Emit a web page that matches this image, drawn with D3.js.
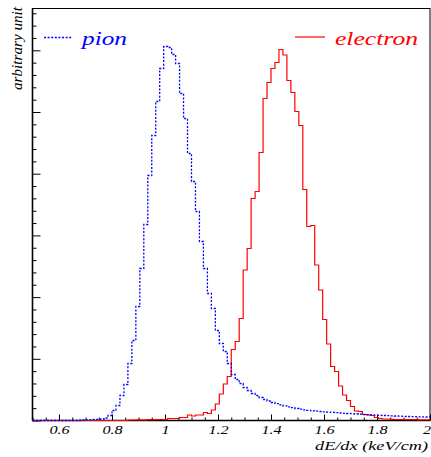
<!DOCTYPE html>
<html>
<head>
<meta charset="utf-8">
<title>dE/dx pion electron</title>
<script src="https://cdn.jsdelivr.net/npm/d3@7"></script>
<style>
  body { margin: 0; background: #fff; }
  text { font-family: "Liberation Serif", "DejaVu Serif", serif; font-style: italic; }
</style>
</head>
<body>
<svg id="graph" width="431" height="457"></svg>
<script>
// 100 bins between 0.5 and 2.0 keV/cm, heights in arbitrary units
var xMin = 0.5, xMax = 2.0, nBins = 100
var pion = [
  0, 0, 0, 0, 0, 0, 0, 0, 0, 0,
  0, 0, 0.5, 0.7, 0.8, 1, 1.2, 1.5, 2.5, 5,
  10, 15, 25, 36, 57, 80, 114, 152, 196, 245,
  285, 319, 352, 374, 373, 366, 357, 327, 302, 267,
  239, 209, 179, 152, 127, 112, 90, 77, 69, 57,
  46, 41, 37, 33, 30, 27, 25, 23, 21, 19.5,
  18, 16.8, 15.6, 14.6, 13.6, 12.8, 12, 11.3, 10.7, 10.2,
  9.7, 9.3, 9, 8.7, 8.4, 8.1, 7.8, 7.5, 7.2, 7,
  6.8, 6.5, 6.3, 6, 5.8, 5.6, 5.4, 5.2, 5, 4.8,
  4.6, 4.5, 4.3, 4.1, 4, 3.9, 3.8, 3.7, 3.6, 3.5
]
var electron = [
  0, 0, 0, 0, 0, 0, 0, 0, 0, 0,
  0, 0, 0, 0, 0, 0, 0, 0, 0, 0,
  0, 0, 0, 0, 0.5, 0.5, 0.6, 0.7, 0.7, 0.8,
  0.8, 1, 1, 1, 2, 2, 2, 3, 3, 5.5,
  4.5, 5.5, 5.5, 8, 7, 10.5, 16.5, 26.5, 36.5, 44,
  71, 79, 102, 150.5, 172, 222, 229, 268, 322, 338,
  352, 358, 371, 365.5, 340, 328, 309, 295, 231, 194,
  195, 155.5, 130.5, 101, 76.5, 54, 49, 34.5, 25.5, 20,
  14, 9.5, 9, 6, 5.5, 5, 3, 2, 1.5, 1.5,
  1.2, 1, 1, 1, 0.8, 0.8, 0.8, 0.7, 0.7, 0.6
]
var xMajorTicks = [0.6, 0.8, 1.0, 1.2, 1.4, 1.6, 1.8, 2.0]
var xTickLabels = ["0.6", "0.8", "1", "1.2", "1.4", "1.6", "1.8", "2"]
var yMax = 412
var yMajorStep = 61.7

var svg = d3.select("#graph")
// plot box (note: "top" is taken by window.top)
var pLeft = 32.5, pRight = 430, pTop = 8.5, pBottom = 420.5

var x = d3.scaleLinear().domain([xMin, xMax]).range([pLeft, pRight])
var y = d3.scaleLinear().domain([0, yMax]).range([pBottom, pTop])
var bw = (xMax - xMin) / nBins

svg.append("rect").attr("width", 431).attr("height", 457).attr("fill", "white")

// frame
svg.append("rect")
  .attr("x", pLeft).attr("y", pTop)
  .attr("width", pRight - pLeft).attr("height", pBottom - pTop)
  .attr("fill", "none").attr("stroke", "black").attr("stroke-width", 1)

// x ticks (major with labels, minor every 0.05)
var xMinor = d3.range(0, 31).map(i => xMin + i * 0.05)
var gxm = svg.append("g").attr("transform", "translate(0," + pBottom + ")")
  .call(d3.axisBottom(x).tickValues(xMinor).tickSize(-3).tickFormat(""))
gxm.select(".domain").remove()

var gx = svg.append("g").attr("transform", "translate(0," + pBottom + ")")
  .call(d3.axisBottom(x).tickValues(xMajorTicks).tickSize(-6).tickFormat((d, i) => xTickLabels[i]))
gx.select(".domain").remove()
gx.selectAll("text")
  .attr("y", 13.5).attr("dy", 0)
  .attr("x", (d, i) => i == xMajorTicks.length - 1 ? -2.5 : 0)
  .attr("transform", "scale(1.35,1)")
  .style("font-family", "Liberation Serif").style("font-style", "italic")
  .style("font-size", "12px").attr("fill", "black")

// y ticks, 5 minor divisions per major
var yTicks = d3.range(0, 34).map(i => i * yMajorStep / 5).filter(v => v < yMax)
var gy = svg.append("g").attr("transform", "translate(" + pLeft + ",0)")
  .call(d3.axisLeft(y).tickValues(yTicks).tickFormat(""))
gy.select(".domain").remove()
gy.selectAll(".tick line").attr("x2", (d, i) => i % 5 == 0 ? 8 : 4)

// thicker left and bottom axis lines
svg.append("line").attr("x1", pLeft).attr("x2", pLeft).attr("y1", pTop).attr("y2", pBottom)
  .attr("stroke", "black").attr("stroke-width", 1.6)
svg.append("line").attr("x1", pLeft).attr("x2", pRight).attr("y1", pBottom).attr("y2", pBottom)
  .attr("stroke", "black").attr("stroke-width", 1.6)

// histograms as step lines
function stepPoints(vals) {
  var pts = vals.map((v, i) => [xMin + i * bw, v])
  pts.push([xMax, vals[vals.length - 1]])
  return pts
}
var line = d3.line().x(d => x(d[0])).y(d => y(d[1])).curve(d3.curveStepAfter)

svg.append("path").datum(stepPoints(electron))
  .attr("d", line).attr("fill", "none")
  .attr("stroke", "#ff0000").attr("stroke-width", 1.2)

svg.append("path").datum(stepPoints(pion))
  .attr("d", line).attr("fill", "none")
  .attr("stroke", "#0000ff").attr("stroke-width", 1.3)
  .attr("stroke-dasharray", "2,1.6")

// legend
svg.append("line").attr("x1", 44).attr("x2", 72).attr("y1", 37.5).attr("y2", 37.5)
  .attr("stroke", "#0000ff").attr("stroke-width", 1.3).attr("stroke-dasharray", "2,1.6")
svg.append("text").attr("x", 82).attr("y", 45).text("pion")
  .attr("fill", "#0000ff").style("font-size", "19px")
  .attr("textLength", 45).attr("lengthAdjust", "spacingAndGlyphs")

svg.append("line").attr("x1", 295).attr("x2", 325).attr("y1", 37).attr("y2", 37)
  .attr("stroke", "#ff0000").attr("stroke-width", 1.2)
svg.append("text").attr("x", 335).attr("y", 45).text("electron")
  .attr("fill", "#ff0000").style("font-size", "19px")
  .attr("textLength", 83).attr("lengthAdjust", "spacingAndGlyphs")

// axis titles
svg.append("text").attr("x", 428).attr("y", 449.5)
  .attr("text-anchor", "end").text("dE/dx (keV/cm)")
  .style("font-size", "13.5px")
  .attr("textLength", 113).attr("lengthAdjust", "spacingAndGlyphs")

svg.append("text")
  .attr("transform", "translate(21.5,7) rotate(-90)")
  .attr("text-anchor", "end").text("arbitrary unit")
  .style("font-size", "15px")
  .attr("textLength", 83).attr("lengthAdjust", "spacingAndGlyphs")
</script>
</body>
</html>
